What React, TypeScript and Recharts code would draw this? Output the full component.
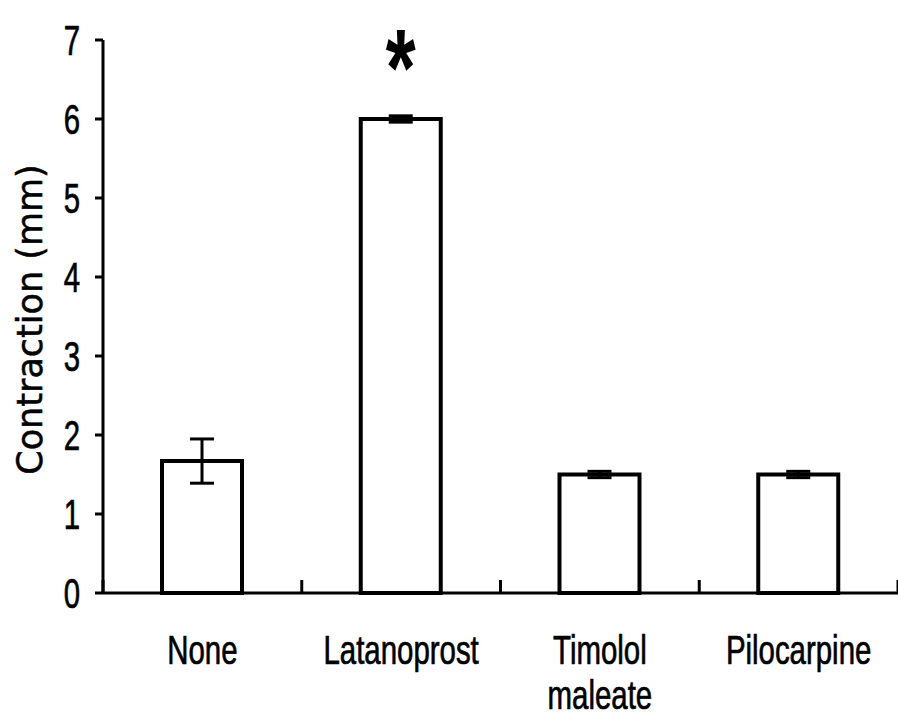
import { BarChart, Bar, XAxis, YAxis, ErrorBar, LabelList } from "recharts";

const treatments = ["None", "Latanoprost", "Timolol\nmaleate", "Pilocarpine"];
const contraction = [1.67, 6.0, 1.5, 1.5];
const sem = [0.28, 0.04, 0.04, 0.04];
const marks = ["", "*", "", ""];
const yTicks = [0, 1, 2, 3, 4, 5, 6, 7];

const data = treatments.map((name, i) => ({
  name,
  value: contraction[i],
  err: sem[i],
  sig: marks[i],
}));

const FONT = "'Liberation Sans', Arial, sans-serif";

// category label, plus the small tick marks on the band edges
function CategoryTick({ x, y, payload, width, visibleTicksCount, index }: any) {
  const lines = String(payload.value).split("\n");
  const band = Number(width) / Number(visibleTicksCount);
  const edges = index === visibleTicksCount - 1 ? [-band / 2, band / 2] : [-band / 2];
  return (
    <g transform={`translate(${x},${y})`}>
      {edges.map((ex, i) => (
        <line key={i} x1={ex} y1={0} x2={ex} y2={-13} stroke="#000" strokeWidth={3} />
      ))}
      <text
        transform="scale(0.735,1)"
        textAnchor="middle"
        fontFamily={FONT}
        fontSize={40}
        fill="#000"
        stroke="#000"
        strokeWidth={0.7}
      >
        {lines.map((l, i) => (
          <tspan key={i} x={0} y={71 + i * 45}>
            {l}
          </tspan>
        ))}
      </text>
    </g>
  );
}

function ValueTick({ x, y, payload }: any) {
  return (
    <g transform={`translate(${x},${y})`}>
      <text
        transform="scale(0.7,1)"
        textAnchor="end"
        y={15}
        fontFamily={FONT}
        fontSize={42}
        fill="#000"
        stroke="#000"
        strokeWidth={0.7}
      >
        {payload.value}
      </text>
    </g>
  );
}

function YTitle({ viewBox }: any) {
  const cx = viewBox.x + 30;
  const cy = viewBox.y + viewBox.height / 2 + 3;
  return (
    <text
      x={cx}
      y={cy}
      transform={`rotate(-90 ${cx} ${cy})`}
      textAnchor="middle"
      dominantBaseline="central"
      fontFamily="'DejaVu Sans', sans-serif"
      fontSize={35}
      fill="#000"
      stroke="#000"
      strokeWidth={0.5}
    >
      Contraction (mm)
    </text>
  );
}

function Asterisk(props: any) {
  const box = props.viewBox ?? props;
  const { value } = props;
  if (!value) return null;
  const cx = Number(box.x) + Number(box.width) / 2;
  const by = Number(box.y) - 14;
  return (
    <g transform={`translate(${cx},${by})`}>
      <text
        transform="scale(0.7,1)"
        textAnchor="middle"
        fontFamily={FONT}
        fontSize={110}
        fontWeight="bold"
        fill="#000"
      >
        {value}
      </text>
    </g>
  );
}

export default function App() {
  return (
    <div
      style={{
        position: "absolute",
        left: 0,
        top: 0,
        width: 898,
        height: 718,
        background: "#fff",
      }}
    >
      <BarChart
        width={898}
        height={718}
        data={data}
        margin={{ top: 40, right: 0, bottom: 0, left: 0 }}
      >
        <XAxis
          dataKey="name"
          height={125}
          interval={0}
          tickSize={0}
          tickMargin={0}
          tickLine={false}
          axisLine={{ stroke: "#000", strokeWidth: 3 }}
          tick={<CategoryTick />}
        />
        <YAxis
          domain={[0, 7]}
          ticks={yTicks}
          interval={0}
          width={103}
          tickSize={8}
          tickMargin={15}
          axisLine={{ stroke: "#000", strokeWidth: 3 }}
          tickLine={{ stroke: "#000", strokeWidth: 3 }}
          tick={<ValueTick />}
          label={{ content: <YTitle /> }}
        />
        <Bar
          dataKey="value"
          fill="#fff"
          stroke="#000"
          strokeWidth={4}
          barSize={80}
          isAnimationActive={false}
        >
          <ErrorBar dataKey="err" width={12} strokeWidth={3} stroke="#000" />
          <LabelList dataKey="sig" content={<Asterisk />} />
        </Bar>
      </BarChart>
    </div>
  );
}
